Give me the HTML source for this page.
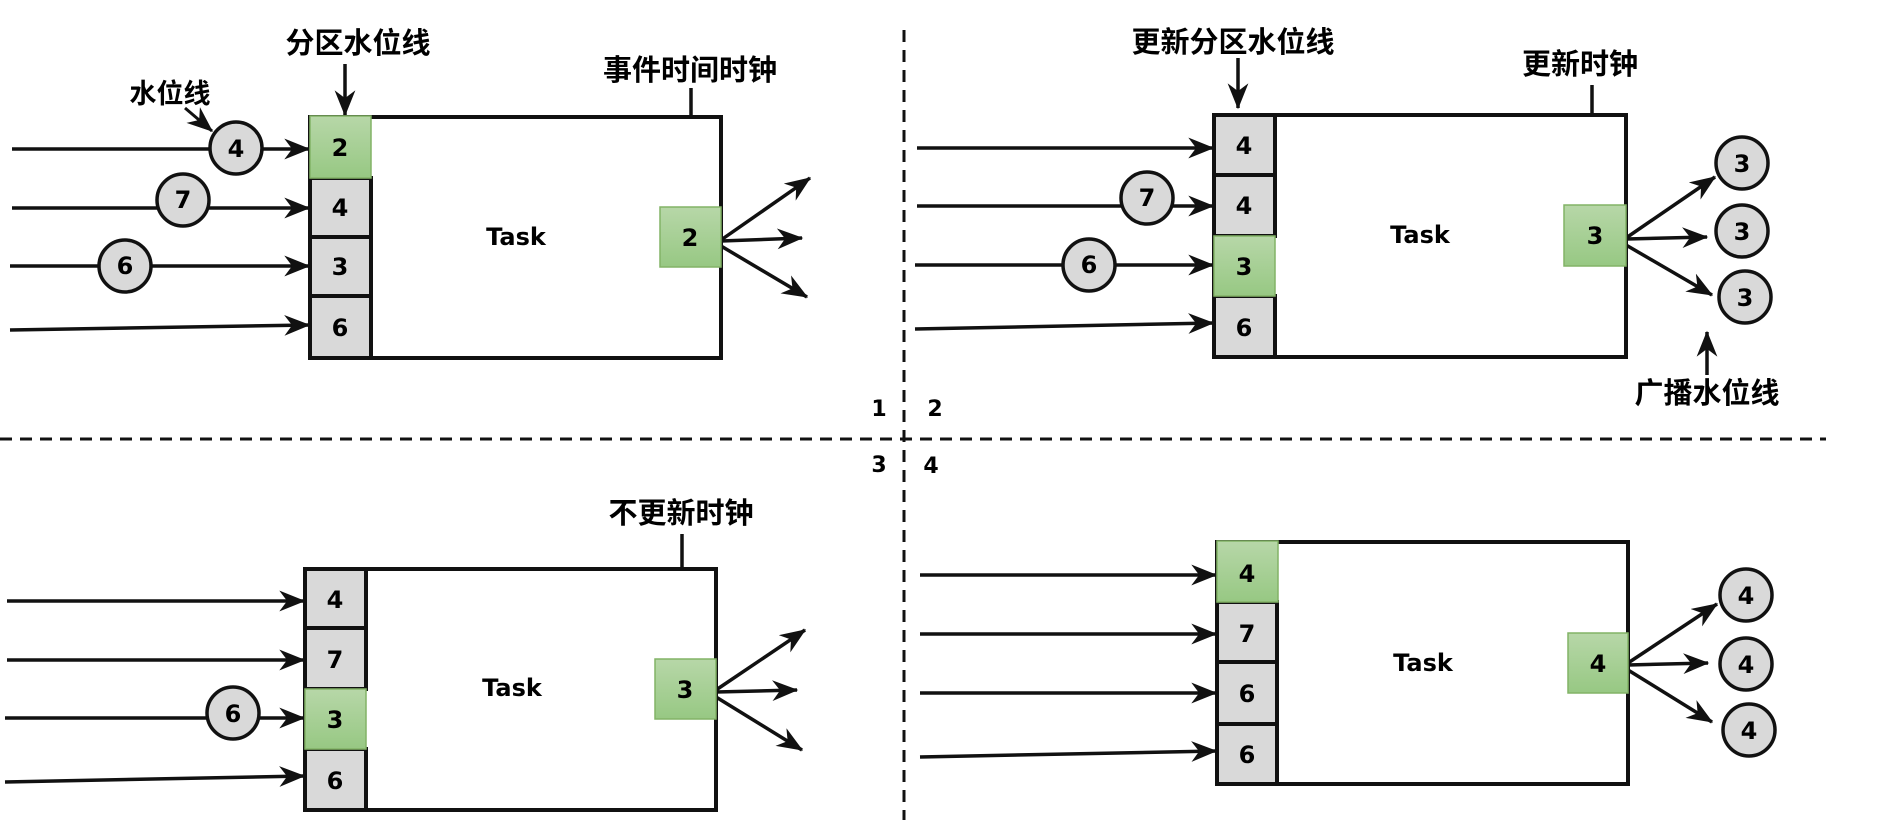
<!DOCTYPE html>
<html><head><meta charset="utf-8"><style>
html,body{margin:0;padding:0;background:#fff;}
svg{display:block;}
.cn{font-family:"Liberation Sans","Noto Sans CJK SC",sans-serif;font-weight:bold;fill:#000;}
.t{font-family:"DejaVu Sans","Liberation Sans",sans-serif;font-weight:bold;fill:#000;}
</style></head><body>
<svg width="1880" height="820" viewBox="0 0 1880 820" xmlns="http://www.w3.org/2000/svg">
<defs>
<marker id="a" viewBox="0 0 20 16" refX="19" refY="8" markerWidth="9" markerHeight="7.2" markerUnits="userSpaceOnUse" orient="auto" style="overflow:visible">
<path d="M0,0 L20,8 L0,16 L6,8 z" fill="#111"/></marker>
<marker id="b" viewBox="0 0 20 16" refX="19" refY="8" markerWidth="26" markerHeight="21" markerUnits="userSpaceOnUse" orient="auto">
<path d="M0,0 L20,8 L0,16 L6,8 z" fill="#111"/></marker>
<linearGradient id="g" x1="0" y1="0" x2="0" y2="1"><stop offset="0" stop-color="#b7d7a8"/><stop offset="1" stop-color="#97c883"/></linearGradient>
</defs>
<g stroke="#111" stroke-width="3" stroke-dasharray="12,8" fill="none">
<line x1="904" y1="30" x2="904" y2="820"/>
<line x1="0" y1="439" x2="1826" y2="439"/>
</g>
<g class="t" font-size="22" text-anchor="middle">
<text x="879" y="416">1</text><text x="935" y="416">2</text>
<text x="879" y="472">3</text><text x="931" y="473">4</text>
</g>

<g stroke="#111" stroke-width="3.5" fill="none" marker-end="url(#b)">
<!-- Q1 -->
<line x1="12" y1="149" x2="309" y2="149"/>
<line x1="12" y1="208" x2="309" y2="208"/>
<line x1="10" y1="266" x2="309" y2="266"/>
<line x1="10" y1="330" x2="309" y2="325"/>
<line x1="345" y1="64" x2="345" y2="115"/>
<line x1="691" y1="88" x2="691" y2="192"/>
<line x1="721" y1="240" x2="810" y2="178"/>
<line x1="721" y1="241" x2="802" y2="238"/>
<line x1="721" y1="246" x2="807" y2="297"/>
<!-- Q2 -->
<line x1="917" y1="148" x2="1213" y2="148"/>
<line x1="917" y1="206" x2="1213" y2="206"/>
<line x1="915" y1="265" x2="1213" y2="265"/>
<line x1="915" y1="329" x2="1213" y2="323"/>
<line x1="1238" y1="58" x2="1238" y2="108"/>
<line x1="1592" y1="85" x2="1592" y2="190"/>
<line x1="1626" y1="238" x2="1715" y2="177"/>
<line x1="1626" y1="239" x2="1707" y2="237"/>
<line x1="1626" y1="245" x2="1712" y2="295"/>
<line x1="1707" y1="375" x2="1707" y2="332"/>
<!-- Q3 -->
<line x1="7" y1="601" x2="304" y2="601"/>
<line x1="7" y1="660" x2="304" y2="660"/>
<line x1="5" y1="718" x2="304" y2="718"/>
<line x1="5" y1="782" x2="304" y2="776"/>
<line x1="682" y1="534" x2="682" y2="639"/>
<line x1="716" y1="690" x2="805" y2="630"/>
<line x1="716" y1="692" x2="797" y2="690"/>
<line x1="716" y1="697" x2="802" y2="750"/>
<!-- Q4 -->
<line x1="920" y1="575" x2="1216" y2="575"/>
<line x1="920" y1="634" x2="1216" y2="634"/>
<line x1="920" y1="693" x2="1216" y2="693"/>
<line x1="920" y1="757" x2="1216" y2="751"/>
<line x1="1628" y1="663" x2="1717" y2="604"/>
<line x1="1628" y1="665" x2="1708" y2="663"/>
<line x1="1628" y1="670" x2="1712" y2="722"/>
</g>
<line x1="185" y1="108" x2="212" y2="131" stroke="#111" stroke-width="3" marker-end="url(#b)"/>

<!-- Boxes -->
<g stroke="#111" stroke-width="4" fill="#fff">
<rect x="310" y="117" width="411" height="241"/>
<rect x="1214" y="115" width="412" height="242"/>
<rect x="305" y="569" width="411" height="241"/>
<rect x="1217" y="542" width="411" height="242"/>
</g>
<g stroke="#111" stroke-width="4" fill="#d9d9d9">
<rect x="310" y="178" width="61" height="59"/><rect x="310" y="237" width="61" height="59"/><rect x="310" y="296" width="61" height="62"/>
<rect x="1214" y="115" width="61" height="60"/><rect x="1214" y="175" width="61" height="61"/><rect x="1214" y="296" width="61" height="61"/>
<rect x="305" y="569" width="61" height="59"/><rect x="305" y="628" width="61" height="61"/><rect x="305" y="749" width="61" height="61"/>
<rect x="1217" y="602" width="60" height="60"/><rect x="1217" y="662" width="60" height="62"/><rect x="1217" y="724" width="60" height="60"/>
</g>
<g stroke="#82b366" stroke-width="1.5" fill="url(#g)">
<rect x="310" y="116" width="61" height="62"/>
<rect x="1214" y="236" width="61" height="60"/>
<rect x="305" y="689" width="61" height="60"/>
<rect x="1217" y="541" width="61" height="61"/>
<rect x="660" y="207" width="61" height="60"/>
<rect x="1564" y="205" width="62" height="61"/>
<rect x="655" y="659" width="61" height="60"/>
<rect x="1568" y="633" width="60" height="60"/>
</g>
<!-- circles -->
<g stroke="#111" stroke-width="3.5" fill="#d9d9d9">
<circle cx="236" cy="148" r="26"/><circle cx="183" cy="200" r="26"/><circle cx="125" cy="266" r="26"/>
<circle cx="1147" cy="198" r="26"/><circle cx="1089" cy="265" r="26"/>
<circle cx="1742" cy="163" r="26"/><circle cx="1742" cy="231" r="26"/><circle cx="1745" cy="297" r="26"/>
<circle cx="233" cy="713" r="26"/>
<circle cx="1746" cy="595" r="26"/><circle cx="1746" cy="664" r="26"/><circle cx="1749" cy="730" r="26"/>
</g>
<g class="t" font-size="24" text-anchor="middle" dominant-baseline="central">
<text x="236" y="149">4</text><text x="183" y="200">7</text><text x="125" y="266">6</text>
<text x="1147" y="198">7</text><text x="1089" y="265">6</text>
<text x="1742" y="164">3</text><text x="1742" y="232">3</text><text x="1745" y="298">3</text>
<text x="233" y="714">6</text>
<text x="1746" y="596">4</text><text x="1746" y="665">4</text><text x="1749" y="731">4</text>
<text x="340" y="148">2</text><text x="340" y="208">4</text><text x="340" y="267">3</text><text x="340" y="328">6</text>
<text x="1244" y="146">4</text><text x="1244" y="206">4</text><text x="1244" y="267">3</text><text x="1244" y="328">6</text>
<text x="335" y="600">4</text><text x="335" y="660">7</text><text x="335" y="720">3</text><text x="335" y="781">6</text>
<text x="1247" y="574">4</text><text x="1247" y="634">7</text><text x="1247" y="694">6</text><text x="1247" y="755">6</text>
<text x="690" y="238">2</text><text x="1595" y="236">3</text><text x="685" y="690">3</text><text x="1598" y="664">4</text>
<text x="516" y="237">Task</text><text x="1420" y="235">Task</text><text x="512" y="688">Task</text><text x="1423" y="663">Task</text>
</g>
<g class="cn" text-anchor="middle" font-size="29">
<text x="358" y="53">分区水位线</text>
<text x="170" y="103" font-size="27">水位线</text>
<text x="690" y="80">事件时间时钟</text>
<text x="1233" y="52">更新分区水位线</text>
<text x="1580" y="74">更新时钟</text>
<text x="1707" y="403">广播水位线</text>
<text x="681" y="523">不更新时钟</text>
</g>
</svg>
</body></html>
